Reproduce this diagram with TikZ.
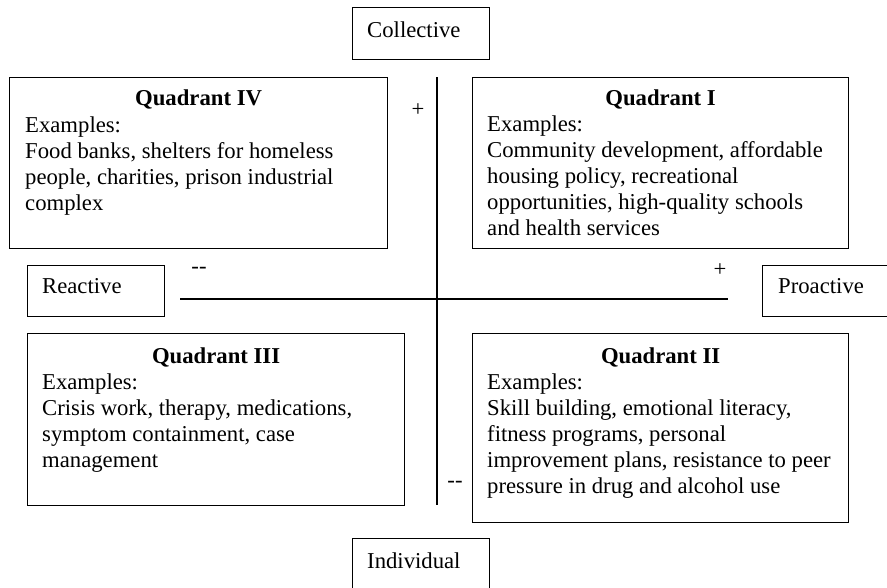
\documentclass[tikz,border=0pt]{standalone}
\usepackage{fontspec}
\setmainfont{Liberation Serif}
\begin{document}
\begin{tikzpicture}[x=1pt,y=-1pt,
  box/.style={draw, line width=1.2pt, inner sep=0pt, anchor=north west},
  body/.style={inner sep=0pt, anchor=north west, align=left, font=\fontsize{22.7}{26}\selectfont},
  ttl/.style={inner sep=0pt, anchor=base, font=\fontsize{22.7}{26}\selectfont\bfseries},
  lbl/.style={inner sep=0pt, anchor=base west, font=\fontsize{22.7}{26}\selectfont},
  sign/.style={inner sep=0pt, font=\fontsize{22.7}{26}\selectfont},
  axis/.style={line width=1.2pt}]
\useasboundingbox (0,0) rectangle (887,587);
\clip (0,0) rectangle (887,587);

% label boxes
\node[box, minimum width=137pt, minimum height=52pt] (colb) at (352,7) {};
\node[lbl] (col) at ([xshift=15pt,yshift=-30pt]colb.north west) {Collective};
\node[box, minimum width=137pt, minimum height=51pt] (reab) at (27,265) {};
\node[lbl] (rea) at ([xshift=15pt,yshift=-28pt]reab.north west) {Reactive};
\node[box, minimum width=137pt, minimum height=51pt] (prob) at (762,265) {};
\node[lbl] (pro) at ([xshift=16pt,yshift=-28pt]prob.north west) {Proactive};
\node[box, minimum width=137pt, minimum height=52pt] (indb) at (352,538) {};
\node[lbl] (ind) at ([xshift=15pt,yshift=-30pt]indb.north west) {Individual};

% quadrant boxes
\node[box, minimum width=378pt, minimum height=171pt] (q4) at (9,77) {};
\node[ttl] (q4t) at ([yshift=-28pt]q4.north) {Quadrant IV};
\node[body] (q4b) at ([xshift=16pt,yshift=-36.8pt]q4.north west)
  {\strut Examples:\\Food banks, shelters for homeless\\people, charities, prison industrial\\complex};

\node[box, minimum width=376pt, minimum height=171pt] (q1) at (472,77) {};
\node[ttl] (q1t) at ([yshift=-28pt]q1.north) {Quadrant I};
\node[body] (q1b) at ([xshift=15pt,yshift=-35.8pt]q1.north west)
  {\strut Examples:\\Community development, affordable\\housing policy, recreational\\opportunities, high-quality schools\\and health services};

\node[box, minimum width=377pt, minimum height=172pt] (q3) at (27,333) {};
\node[ttl] (q3t) at ([yshift=-30pt]q3.north) {Quadrant III};
\node[body] (q3b) at ([xshift=15pt,yshift=-37.8pt]q3.north west)
  {\strut Examples:\\Crisis work, therapy, medications,\\symptom containment, case\\management};

\node[box, minimum width=376pt, minimum height=189pt] (q2) at (472,333) {};
\node[ttl] (q2t) at ([yshift=-30pt]q2.north) {Quadrant II};
\node[body] (q2b) at ([xshift=15pt,yshift=-37.8pt]q2.north west)
  {\strut Examples:\\Skill building, emotional literacy,\\fitness programs, personal\\improvement plans, resistance to peer\\pressure in drug and alcohol use};

% axes
\coordinate (vt) at (437,77);
\coordinate (vb) at (437,505);
\coordinate (hl) at (180,299);
\coordinate (hr) at (728,299);
\draw[axis] (vt) -- (vb);
\draw[axis] (hl) -- (hr);

% signs
\node[sign] (s1) at (418,110) {+};
\node[sign] (s2) at (199,270) {-{}-};
\node[sign] (s3) at (720,270) {+};
\node[sign] (s4) at (455,484) {-{}-};
\end{tikzpicture}
\end{document}
